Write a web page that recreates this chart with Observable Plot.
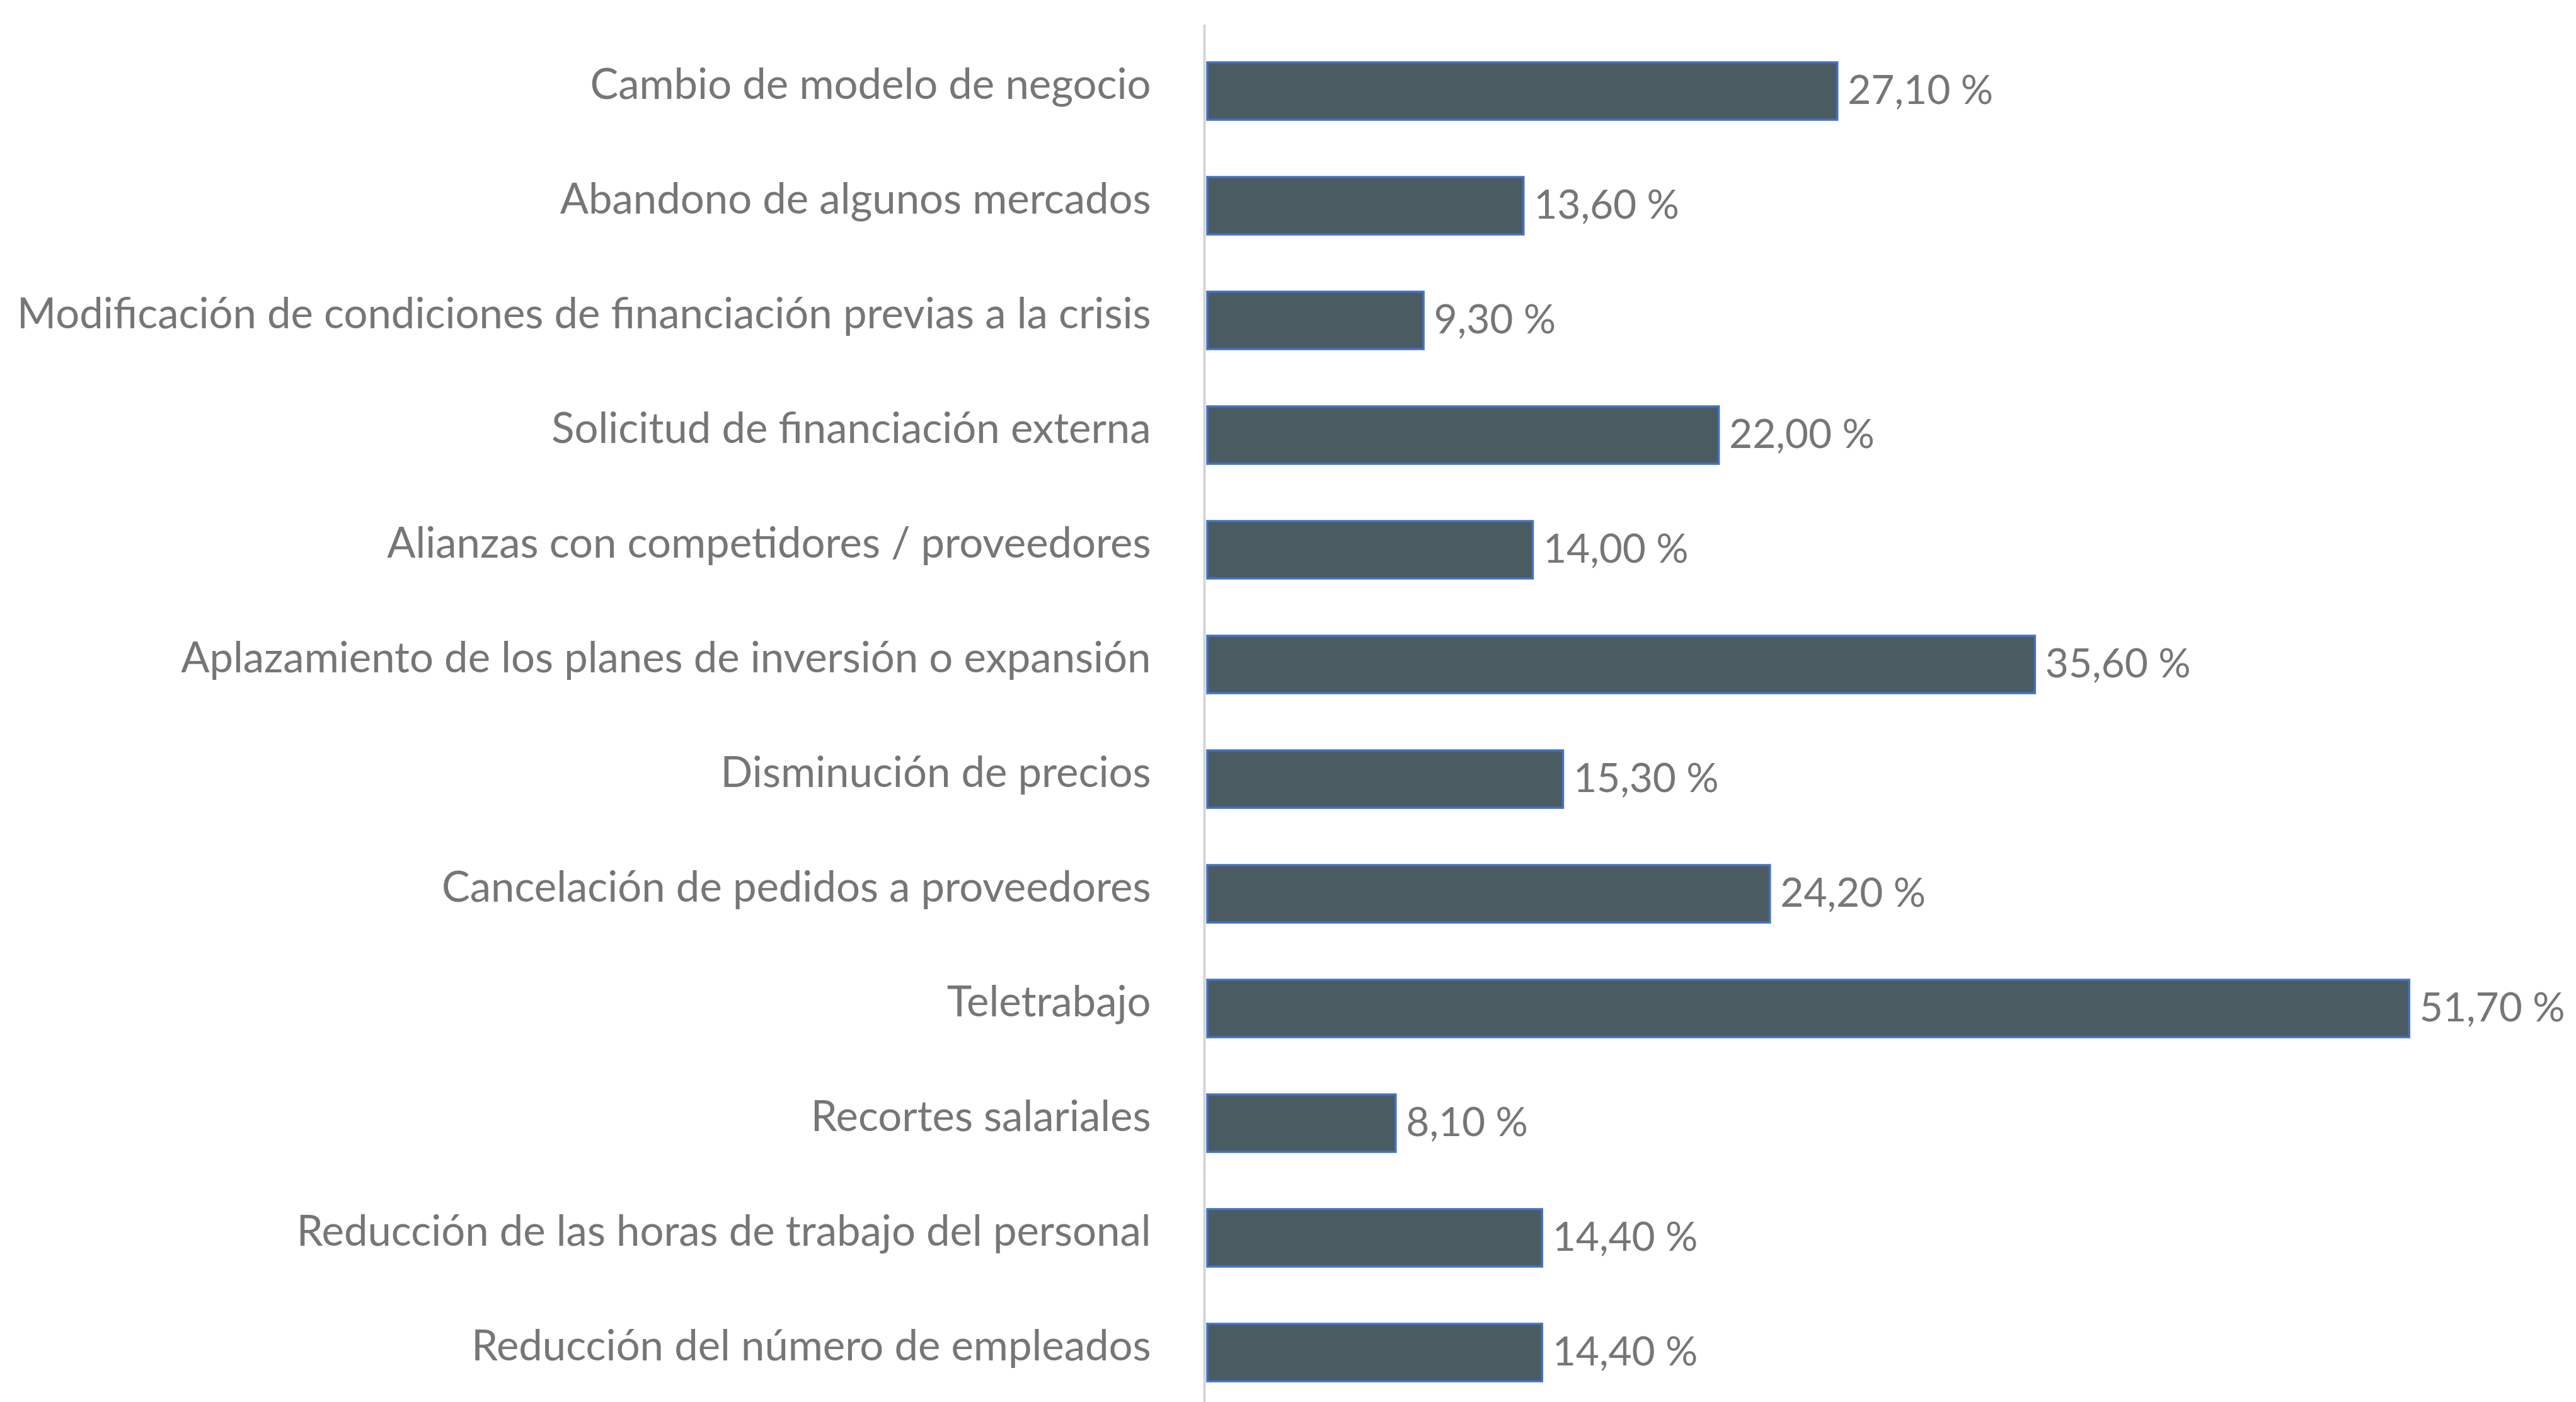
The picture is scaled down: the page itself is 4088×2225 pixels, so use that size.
<!DOCTYPE html>
<html>
<head>
<meta charset="utf-8">
<script src="https://cdn.jsdelivr.net/npm/d3@7"></script>
<script src="https://cdn.jsdelivr.net/npm/@observablehq/plot@0.6"></script>
<style>
  html, body { margin: 0; padding: 0; background: #ffffff; overflow: hidden; }
  svg { display: block; }
</style>
</head>
<body>
<div id="chart"></div>
<script>
const categories = [
  "Cambio de modelo de negocio",
  "Abandono de algunos mercados",
  "Modificación de condiciones de financiación previas a la crisis",
  "Solicitud de financiación externa",
  "Alianzas con competidores / proveedores",
  "Aplazamiento de los planes de inversión o expansión",
  "Disminución de precios",
  "Cancelación de pedidos a proveedores",
  "Teletrabajo",
  "Recortes salariales",
  "Reducción de las horas de trabajo del personal",
  "Reducción del número de empleados"
];
const values = [27.1, 13.6, 9.3, 22.0, 14.0, 35.6, 15.3, 24.2, 51.7, 8.1, 14.4, 14.4];

const data = categories.map((c, i) => ({category: c, value: values[i]}));
const fmt = v => v.toFixed(2).replace(".", ",") + " %";

const chart = Plot.plot({
  width: 4088,
  height: 2225,
  marginLeft: 1916,
  marginRight: 143,
  marginTop: 39,
  marginBottom: 0,
  style: {fontFamily: "Lato, 'Open Sans', sans-serif", fontSize: "67px", color: "#767676", background: "#ffffff"},
  x: {domain: [0, 55], axis: null},
  y: {domain: categories, paddingInner: 0.5, paddingOuter: 0.15, insetTop: 27, label: null, axis: null},
  marks: [
    Plot.barX(data, {x: "value", y: "category", fill: "#4a5c62", stroke: "#4472c4", strokeWidth: 3.5}),
    Plot.ruleX([0], {stroke: "#d4d4d4", strokeWidth: 4, dx: -5}),
    Plot.text(data, {x: "value", y: "category", text: d => fmt(d.value), textAnchor: "start", dx: 16, fontSize: 64, fill: "#767676"}),
    Plot.axisY({tickSize: 0, tickPadding: 90, fontSize: 67, dy: -9, label: null})
  ]
});
document.getElementById("chart").appendChild(chart);
</script>
</body>
</html>
